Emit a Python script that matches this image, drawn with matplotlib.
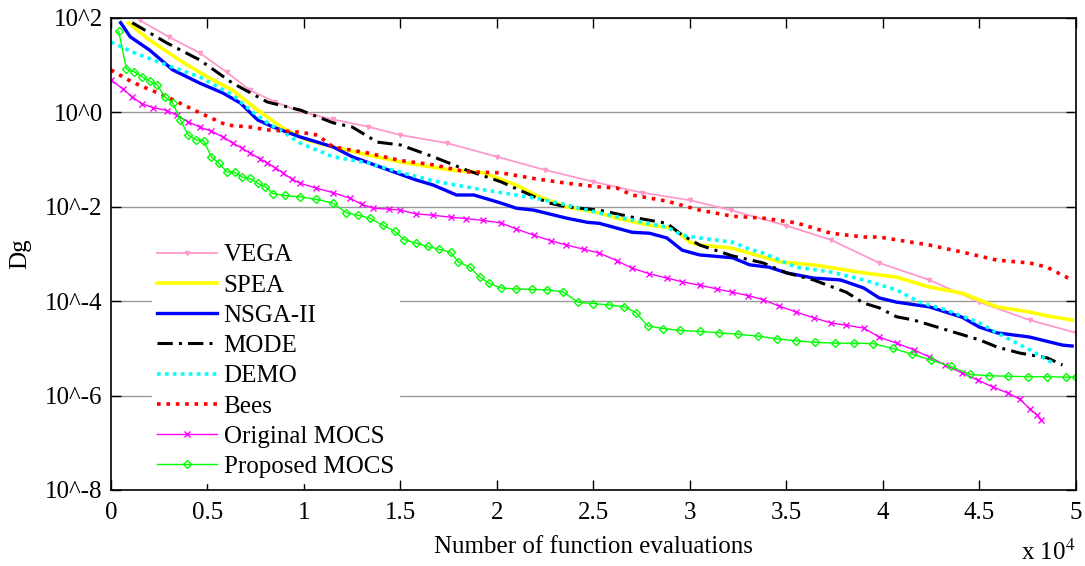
import numpy as np
import matplotlib
matplotlib.use("Agg")
import matplotlib.pyplot as plt

plt.rcParams['font.family'] = ['Liberation Serif', 'DejaVu Serif']
plt.rcParams['mathtext.fontset'] = 'stix'

# x in units of 1e4 evaluations, y as log10(Dg)
vega_x = [0.15, 0.3, 0.46, 0.6, 0.72, 0.85, 0.98, 1.15, 1.33, 1.5, 1.74, 2.0, 2.25, 2.5,
          2.75, 3.0, 3.21, 3.5, 3.73, 3.98, 4.24, 4.5, 4.76, 5.0]
vega_y = [1.95, 1.6, 1.26, 0.85, 0.47, 0.22, 0.02, -0.15, -0.3, -0.48, -0.65, -0.94, -1.22, -1.47,
          -1.7, -1.86, -2.07, -2.4, -2.7, -3.19, -3.55, -4.02, -4.4, -4.67]

spea_x = [0.09, 0.2, 0.37, 0.5, 0.63, 0.76, 0.89, 1.01, 1.15, 1.33, 1.5, 1.76, 1.93, 2.1,
          2.22, 2.36, 2.53, 2.62, 2.79, 2.91, 3.0, 3.05, 3.21, 3.47, 3.64, 3.81, 3.9, 4.07,
          4.24, 4.41, 4.59, 4.76, 4.85, 4.98]
spea_y = [1.9, 1.53, 1.07, 0.75, 0.47, 0.05, -0.33, -0.58, -0.73, -0.9, -1.05, -1.22, -1.28, -1.54,
          -1.79, -2.0, -2.13, -2.24, -2.39, -2.45, -2.75, -2.81, -2.87, -3.17, -3.23, -3.34, -3.4, -3.49,
          -3.7, -3.83, -4.12, -4.23, -4.31, -4.4]

nsga_x = [0.05, 0.1, 0.2, 0.32, 0.46, 0.58, 0.67, 0.76, 0.84, 0.98, 1.15, 1.25, 1.41, 1.58,
          1.67, 1.79, 1.88, 2.02, 2.1, 2.19, 2.36, 2.47, 2.53, 2.7, 2.79, 2.88, 2.96, 3.05,
          3.22, 3.31, 3.41, 3.5, 3.64, 3.78, 3.9, 3.98, 4.07, 4.24, 4.41, 4.5, 4.59, 4.76, 4.93, 4.98]
nsga_y = [1.9, 1.6, 1.32, 0.9, 0.62, 0.41, 0.2, -0.16, -0.31, -0.52, -0.73, -0.94, -1.18, -1.43,
          -1.54, -1.75, -1.75, -1.92, -2.03, -2.07, -2.24, -2.33, -2.35, -2.54, -2.56, -2.66, -2.92, -3.02,
          -3.08, -3.23, -3.28, -3.4, -3.51, -3.55, -3.72, -3.93, -4.02, -4.12, -4.34, -4.55, -4.67, -4.76, -4.93, -4.95]

mode_x = [0.11, 0.29, 0.46, 0.63, 0.81, 0.98, 1.15, 1.25, 1.38, 1.5, 1.67, 1.84, 2.02, 2.19,
          2.27, 2.36, 2.53, 2.7, 2.88, 2.96, 3.05, 3.22, 3.38, 3.5, 3.64, 3.81, 3.9, 3.98,
          4.07, 4.16, 4.33, 4.5, 4.59, 4.71, 4.85, 4.93]
mode_y = [1.9, 1.47, 1.11, 0.62, 0.22, 0.05, -0.22, -0.31, -0.63, -0.69, -0.94, -1.22, -1.47, -1.78,
          -1.92, -2.0, -2.07, -2.22, -2.35, -2.6, -2.81, -3.04, -3.19, -3.4, -3.55, -3.81, -4.04, -4.14,
          -4.33, -4.4, -4.61, -4.82, -4.97, -5.1, -5.2, -5.35]

demo_x = [0.0, 0.11, 0.29, 0.46, 0.63, 0.74, 0.81, 0.89, 0.98, 1.15, 1.33, 1.5, 1.67, 1.84,
          2.02, 2.19, 2.36, 2.53, 2.7, 2.88, 2.96, 3.05, 3.22, 3.31, 3.38, 3.55, 3.73, 3.9,
          4.07, 4.19, 4.33, 4.5, 4.59, 4.76, 4.88]
demo_y = [1.49, 1.28, 1.0, 0.75, 0.37, -0.01, -0.22, -0.41, -0.65, -0.94, -1.07, -1.27, -1.45, -1.58,
          -1.7, -1.81, -1.96, -2.13, -2.28, -2.43, -2.6, -2.66, -2.75, -2.9, -2.98, -3.28, -3.38, -3.55,
          -3.76, -4.02, -4.19, -4.46, -4.67, -5.03, -5.31]

bees_x = [0.0, 0.11, 0.29, 0.46, 0.6, 0.72, 0.81, 0.98, 1.07, 1.15, 1.33, 1.5, 1.67, 1.84,
          2.02, 2.19, 2.36, 2.53, 2.62, 2.7, 2.88, 3.05, 3.22, 3.38, 3.55, 3.64, 3.73, 3.9,
          3.98, 4.07, 4.24, 4.41, 4.59, 4.76, 4.85, 4.93, 4.98]
bees_y = [0.9, 0.64, 0.33, -0.01, -0.27, -0.31, -0.37, -0.42, -0.48, -0.73, -0.86, -1.02, -1.11, -1.26,
          -1.28, -1.4, -1.5, -1.58, -1.6, -1.75, -1.88, -2.07, -2.2, -2.24, -2.34, -2.45, -2.56, -2.64,
          -2.64, -2.7, -2.81, -2.96, -3.13, -3.19, -3.28, -3.45, -3.55]

orig_x = [0.0, 0.06, 0.11, 0.16, 0.22, 0.29, 0.34, 0.4, 0.46, 0.52, 0.58, 0.63, 0.68, 0.72,
          0.77, 0.81, 0.85, 0.89, 0.94, 0.98, 1.06, 1.15, 1.24, 1.3, 1.36, 1.44, 1.5, 1.58,
          1.67, 1.76, 1.84, 1.93, 2.02, 2.1, 2.19, 2.28, 2.36, 2.45, 2.53, 2.62, 2.7, 2.79,
          2.88, 2.96, 3.05, 3.14, 3.22, 3.3, 3.38, 3.46, 3.55, 3.64, 3.73, 3.81, 3.9, 3.98,
          4.07, 4.16, 4.24, 4.32, 4.41, 4.49, 4.57, 4.65, 4.71, 4.76, 4.8, 4.82]
orig_y = [0.69, 0.5, 0.33, 0.18, 0.1, 0.04, -0.06, -0.2, -0.31, -0.4, -0.52, -0.65, -0.76, -0.86,
          -0.98, -1.07, -1.17, -1.28, -1.42, -1.5, -1.6, -1.7, -1.82, -1.95, -2.03, -2.05, -2.07, -2.15,
          -2.18, -2.22, -2.25, -2.29, -2.34, -2.47, -2.6, -2.72, -2.81, -2.9, -2.98, -3.14, -3.3, -3.42,
          -3.51, -3.59, -3.66, -3.74, -3.81, -3.88, -3.97, -4.1, -4.23, -4.35, -4.46, -4.51, -4.57, -4.76,
          -4.89, -5.03, -5.18, -5.35, -5.52, -5.67, -5.82, -5.95, -6.08, -6.28, -6.42, -6.52]

prop_x = [0.04, 0.08, 0.12, 0.16, 0.2, 0.24, 0.28, 0.32, 0.36, 0.4, 0.44, 0.48, 0.52, 0.56,
          0.6, 0.64, 0.68, 0.72, 0.76, 0.8, 0.84, 0.9, 0.98, 1.06, 1.15, 1.22, 1.28, 1.34,
          1.41, 1.47, 1.52, 1.58, 1.64, 1.7, 1.76, 1.8, 1.86, 1.91, 1.96, 2.02, 2.1, 2.18,
          2.26, 2.34, 2.42, 2.5, 2.58, 2.66, 2.72, 2.78, 2.86, 2.95, 3.05, 3.15, 3.25, 3.35,
          3.45, 3.55, 3.65, 3.75, 3.85, 3.95, 4.05, 4.15, 4.25, 4.35, 4.45, 4.55, 4.65, 4.75,
          4.85, 4.95, 5.0]
prop_y = [1.72, 0.92, 0.86, 0.76, 0.66, 0.58, 0.32, 0.2, -0.16, -0.48, -0.58, -0.6, -0.94, -1.08,
          -1.26, -1.27, -1.37, -1.4, -1.5, -1.58, -1.72, -1.76, -1.79, -1.84, -1.92, -2.13, -2.18, -2.24,
          -2.39, -2.52, -2.7, -2.77, -2.84, -2.9, -2.96, -3.17, -3.28, -3.49, -3.62, -3.72, -3.74, -3.75,
          -3.76, -3.8, -4.02, -4.05, -4.08, -4.12, -4.24, -4.52, -4.58, -4.62, -4.64, -4.67, -4.7, -4.74,
          -4.8, -4.84, -4.87, -4.89, -4.89, -4.9, -5.0, -5.12, -5.25, -5.38, -5.55, -5.58, -5.59, -5.6,
          -5.6, -5.61, -5.61]

y_ticks = [2, 0, -2, -4, -6, -8]
y_labels = ['10^2', '10^0', '10^-2', '10^-4', '10^-6', '10^-8']
x_ticks = [0, 0.5, 1, 1.5, 2, 2.5, 3, 3.5, 4, 4.5, 5]
x_labels = ['0', '0.5', '1', '1.5', '2', '2.5', '3', '3.5', '4', '4.5', '5']

fig = plt.figure(figsize=(10.85, 5.66), dpi=100)
ax = fig.add_axes([0.1023, 0.1343, 0.8894, 0.8339])

ax.plot(vega_x, vega_y, color='#ff99cc', lw=1.3, marker='v', ms=3, label='VEGA')
ax.plot(spea_x, spea_y, color='#ffff00', lw=2.6, label='SPEA')
ax.plot(nsga_x, nsga_y, color='#0000ff', lw=2.4, label='NSGA-II')
ax.plot(mode_x, mode_y, color='black', lw=2.2, linestyle=(0, (5, 2, 1, 2)), label='MODE')
ax.plot(demo_x, demo_y, color='#00ffff', lw=2.6, linestyle=(0, (1, 1.2)), label='DEMO')
ax.plot(bees_x, bees_y, color='#ff0000', lw=2.6, linestyle=(0, (1, 1.6)), label='Bees')
ax.plot(orig_x, orig_y, color='#ff00ff', lw=1.0, marker='x', ms=5, mew=1.0, label='Original MOCS')
ax.plot(prop_x, prop_y, color='#00ff00', lw=1.0, marker='D', ms=4, mfc='none', mew=1.0,
        label='Proposed MOCS')

ax.set_xlim(0, 5)
ax.set_ylim(-8, 2)
ax.set_xticks(x_ticks)
ax.set_xticklabels(x_labels)
ax.set_yticks(y_ticks)
ax.set_yticklabels(y_labels)
ax.yaxis.grid(True, color='#999999', lw=1.0)
ax.set_axisbelow(True)
ax.tick_params(direction='in', top=True, right=True, length=7, width=1, labelsize=18)
ax.tick_params(axis='x', pad=9)
ax.tick_params(axis='y', pad=6)
for s in ax.spines.values():
    s.set_linewidth(1.2)

ax.set_xlabel('Number of function evaluations', fontsize=18, labelpad=8)
ax.set_ylabel('Dg', fontsize=18, labelpad=10)
ax.text(1.0, -0.148, r'x 10$^{4}$', transform=ax.transAxes, ha='right', va='baseline', fontsize=18)

leg = ax.legend(loc='lower left', bbox_to_anchor=(0.03, -0.012), frameon=True, fontsize=18,
                handlelength=2.4, labelspacing=0.31, borderpad=0.2, handletextpad=0.25)
leg.get_frame().set_edgecolor('white')
leg.get_frame().set_facecolor('white')
leg.get_frame().set_alpha(1.0)

fig.savefig('out.png', dpi=100)
